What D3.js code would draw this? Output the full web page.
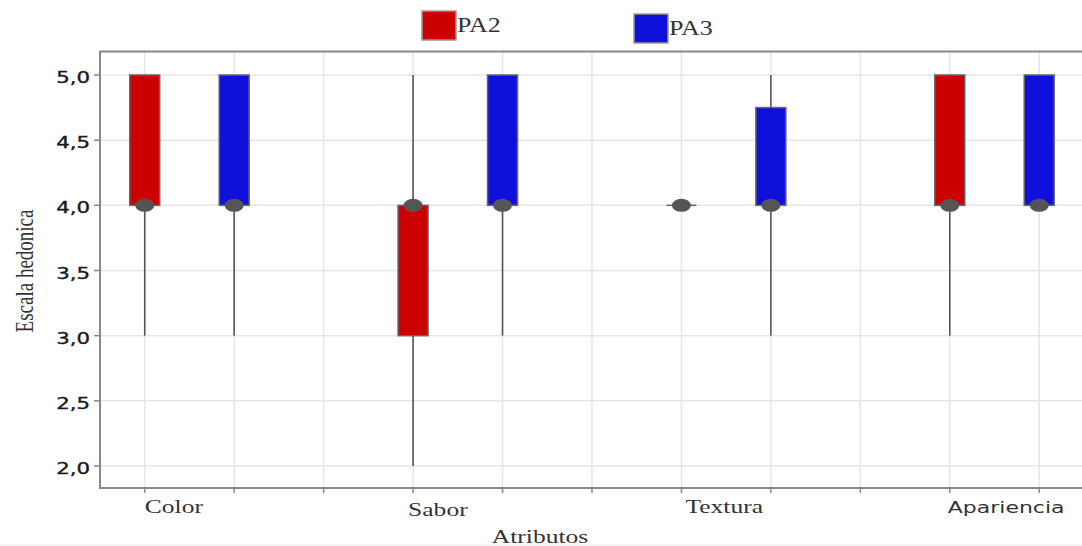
<!DOCTYPE html>
<html>
<head>
<meta charset="utf-8">
<script src="https://cdn.jsdelivr.net/npm/d3@7"></script>
<style>
  html, body { margin: 0; padding: 0; background: #fff; }
  svg { display: block; }
</style>
</head>
<body>
<svg id="chart" width="1082" height="546"></svg>
<script>
// Hedonic scale box plots per attribute, two formulations
const categories = ["Color", "Sabor", "Textura", "Apariencia"];
const series = ["PA2", "PA3"];
const seriesColors = ["#cc0000", "#1010dd"];

// five-number summaries [min, q1, median, q3, max] per category
const pa2Stats = [
  [3, 4, 4, 5, 5],
  [2, 3, 4, 4, 5],
  [4, 4, 4, 4, 4],
  [3, 4, 4, 5, 5]
];
const pa3Stats = [
  [3, 4, 4, 5, 5],
  [3, 4, 4, 5, 5],
  [3, 4, 4, 4.75, 5],
  [4, 4, 4, 5, 5]
];
const yTicks = [2.0, 2.5, 3.0, 3.5, 4.0, 4.5, 5.0];
const yTickLabels = ["2,0", "2,5", "3,0", "3,5", "4,0", "4,5", "5,0"];
const xTitle = "Atributos";
const yTitle = "Escala hedonica";

const svg = d3.select("#chart");
const W = 1082, H = 546;
const plot = { left: 100, right: 1082, top: 52, bottom: 488 };

// slot index: category i, series j -> i*3 + j (one empty slot between groups)
const nSlots = categories.length * 3 - 1;
const x = d3.scaleLinear().domain([-0.5, nSlots - 0.5]).range([plot.left, plot.left + 89.45 * nSlots]);
const y = d3.scaleLinear().domain([2, 5]).range([466, 75]);

const stretch = 1.42; // horizontal widening of all text

// faint rule at the very bottom
svg.append("line")
  .attr("x1", 0).attr("x2", W).attr("y1", 545).attr("y2", 545)
  .attr("stroke", "#ececec").attr("stroke-width", 1);

// grid
const grid = svg.append("g");
grid.selectAll("line.h").data(yTicks).join("line")
  .attr("x1", plot.left).attr("x2", plot.right)
  .attr("y1", d => y(d)).attr("y2", d => y(d))
  .attr("stroke", "#e6e6e6").attr("stroke-width", 1.5);
grid.selectAll("line.v").data(d3.range(nSlots)).join("line")
  .attr("x1", d => x(d)).attr("x2", d => x(d))
  .attr("y1", plot.top).attr("y2", plot.bottom)
  .attr("stroke", "#e6e6e6").attr("stroke-width", 1.5);

// frame / axes
const axisColor = "#888";
svg.append("line").attr("x1", plot.left).attr("x2", plot.right).attr("y1", 51.5).attr("y2", 51.5)
  .attr("stroke", axisColor).attr("stroke-width", 2);
svg.append("line").attr("x1", plot.left).attr("x2", plot.left).attr("y1", 51).attr("y2", plot.bottom + 1)
  .attr("stroke", axisColor).attr("stroke-width", 2);
svg.append("line").attr("x1", plot.left).attr("x2", plot.right).attr("y1", plot.bottom).attr("y2", plot.bottom)
  .attr("stroke", axisColor).attr("stroke-width", 2);

// y ticks and labels
const yAxis = svg.append("g");
yAxis.selectAll("line").data(yTicks).join("line")
  .attr("x1", plot.left - 6).attr("x2", plot.left)
  .attr("y1", d => y(d)).attr("y2", d => y(d))
  .attr("stroke", axisColor).attr("stroke-width", 1.5);
yAxis.selectAll("text").data(yTicks).join("text")
  .attr("transform", d => `translate(90,${y(d) + 8}) scale(${stretch},1)`)
  .attr("text-anchor", "end")
  .attr("font-family", "DejaVu Sans, sans-serif")
  .attr("font-size", 15)
  .attr("fill", "#1a1a1a")
  .attr("stroke", "#1a1a1a")
  .attr("stroke-width", 0.35)
  .text((d, i) => yTickLabels[i]);

// x ticks
svg.append("g").selectAll("line").data(d3.range(nSlots)).join("line")
  .attr("x1", d => x(d)).attr("x2", d => x(d))
  .attr("y1", plot.bottom).attr("y2", plot.bottom + 5)
  .attr("stroke", axisColor).attr("stroke-width", 1.5);

// category labels
const labelFonts = ["Liberation Serif, serif", "Liberation Serif, serif", "Liberation Serif, serif", "DejaVu Sans, sans-serif"];
const labelSizes = [18, 18, 18, 15.5];
const labelDx = [0, -5, 4, -2];
const labelBase = [513, 516, 513, 513];
svg.append("g").selectAll("text").data(categories).join("text")
  .attr("transform", (d, i) => `translate(${x(i * 3) + labelDx[i]},${labelBase[i]}) scale(${stretch},1)`)
  .attr("font-family", (d, i) => labelFonts[i])
  .attr("font-size", (d, i) => labelSizes[i])
  .attr("fill", "#333")
  .text(d => d);

// axis titles
svg.append("text")
  .attr("transform", `translate(540,543) scale(${stretch},1)`)
  .attr("text-anchor", "middle")
  .attr("font-family", "Liberation Serif, serif")
  .attr("font-size", 18)
  .attr("fill", "#333")
  .text(xTitle);
svg.append("text")
  .attr("transform", `translate(33,271) scale(1.35,1) rotate(-90)`)
  .attr("text-anchor", "middle")
  .attr("font-family", "Liberation Serif, serif")
  .attr("font-size", 19)
  .attr("fill", "#333")
  .text(yTitle);

// boxes
const boxW = 30;
const allStats = [pa2Stats, pa3Stats];
const boxes = [];
categories.forEach((c, i) => {
  series.forEach((s, j) => {
    const [mn, q1, md, q3, mx] = allStats[j][i];
    boxes.push({ slot: i * 3 + j, color: seriesColors[j], mn, q1, md, q3, mx });
  });
});

const g = svg.append("g");
boxes.forEach(b => {
  const cx = x(b.slot);
  const bg = g.append("g");
  // whiskers
  if (b.mn < b.q1) bg.append("line").attr("x1", cx).attr("x2", cx).attr("y1", y(b.mn)).attr("y2", y(b.q1))
    .attr("stroke", "#555").attr("stroke-width", 1.6);
  if (b.mx > b.q3) bg.append("line").attr("x1", cx).attr("x2", cx).attr("y1", y(b.mx)).attr("y2", y(b.q3))
    .attr("stroke", "#555").attr("stroke-width", 1.6);
  // box
  if (b.q3 > b.q1) {
    bg.append("rect")
      .attr("x", cx - boxW / 2).attr("width", boxW)
      .attr("y", y(b.q3)).attr("height", y(b.q1) - y(b.q3))
      .attr("fill", b.color).attr("stroke", "#666").attr("stroke-width", 1.5);
  } else {
    bg.append("line").attr("x1", cx - boxW / 2).attr("x2", cx + boxW / 2)
      .attr("y1", y(b.q1)).attr("y2", y(b.q1))
      .attr("stroke", "#666").attr("stroke-width", 1.5);
  }
  // median marker
  bg.append("ellipse").attr("cx", cx).attr("cy", y(b.md)).attr("rx", 9.5).attr("ry", 6.5)
    .attr("fill", "#555");
});

// legend
const legendX = [422, 634];
const legendY = [11, 14];
const lg = svg.append("g");
series.forEach((s, j) => {
  lg.append("rect")
    .attr("x", legendX[j]).attr("y", legendY[j]).attr("width", 34).attr("height", 29)
    .attr("fill", seriesColors[j]).attr("stroke", "#999").attr("stroke-width", 1.5);
  lg.append("text")
    .attr("transform", `translate(${legendX[j] + 35},${legendY[j] + 21}) scale(1.3,1)`)
    .attr("font-family", "Liberation Serif, serif")
    .attr("font-size", 20)
    .attr("fill", "#333")
    .text(s);
});
</script>
</body>
</html>
